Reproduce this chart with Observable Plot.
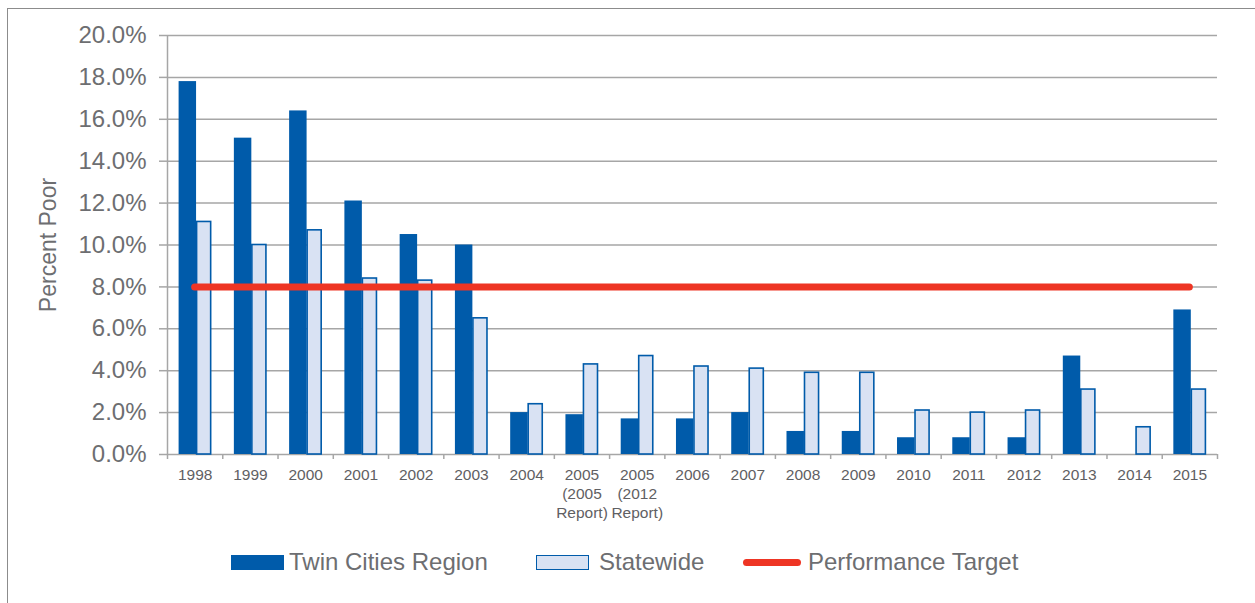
<!DOCTYPE html>
<html>
<head>
<meta charset="utf-8">
<script src="https://cdn.jsdelivr.net/npm/d3@7"></script>
<script src="https://cdn.jsdelivr.net/npm/@observablehq/plot@0.6"></script>
<style>
  html, body { margin: 0; padding: 0; background: #fff; }
  body { width: 1255px; height: 603px; position: relative; overflow: hidden; font-family: "Liberation Sans", Arial, Helvetica, sans-serif; }
  #frame { position: absolute; left: 7px; top: 8px; width: 1260px; height: 600px; border-top: 1.5px solid #8c8c8c; border-left: 1.5px solid #8c8c8c; }
  #chart { position: absolute; left: 0; top: 0; }
  .leg { position: absolute; top: 548px; height: 28px; display: flex; align-items: center; font-size: 24px; color: #6d6e71; white-space: nowrap; }
  .sw { display: inline-block; box-sizing: border-box; }
</style>
</head>
<body>
<div id="frame"></div>
<div id="chart"></div>
<div class="leg" style="left:231px"><span class="sw" style="width:53px;height:15px;background:#005BAA;margin-right:5px"></span>Twin Cities Region</div>
<div class="leg" style="left:536px"><span class="sw" style="width:53px;height:15px;background:#D9E2F3;border:1.6px solid #005BAA;margin-right:10px"></span>Statewide</div>
<div class="leg" style="left:743px"><span class="sw" style="width:58px;height:7px;background:#EE3524;border-radius:4px;margin-right:7px"></span>Performance Target</div>
<script>
const years = ["1998", "1999", "2000", "2001", "2002", "2003", "2004",
  "2005\n(2005\nReport)", "2005\n(2012\nReport)", "2006", "2007", "2008",
  "2009", "2010", "2011", "2012", "2013", "2014", "2015"];
const twinCities = [17.8, 15.1, 16.4, 12.1, 10.5, 10.0, 2.0, 1.9, 1.7, 1.7, 2.0, 1.1, 1.1, 0.8, 0.8, 0.8, 4.7, null, 6.9];
const statewide = [11.1, 10.0, 10.7, 8.4, 8.3, 6.5, 2.4, 4.3, 4.7, 4.2, 4.1, 3.9, 3.9, 2.1, 2.0, 2.1, 3.1, 1.3, 3.1];
const performanceTarget = 8.0;
const yTicks = [0, 2, 4, 6, 8, 10, 12, 14, 16, 18, 20];
const yAxisTitle = "Percent Poor";

const rows = years.map((label, i) => ({i, label, twin: twinCities[i], state: statewide[i]}));
const n = years.length;
const grid = "#a6a6a6";
const textColor = "#6d6e71";

const chart = Plot.plot({
  width: 1255,
  height: 530,
  marginLeft: 167,
  marginRight: 38,
  marginTop: 35,
  marginBottom: 76,
  style: {fontFamily: "'Liberation Sans', Arial, Helvetica, sans-serif", background: "transparent"},
  x: {type: "linear", domain: [0, n]},
  y: {domain: [0, 20]},
  marks: [
    Plot.ruleY(yTicks, {stroke: grid, strokeWidth: 1.5}),
    Plot.ruleX([0], {stroke: grid, strokeWidth: 1.5}),
    Plot.axisY({ticks: yTicks, tickFormat: d => d.toFixed(1) + "%", tickSize: 8, tickPadding: 13,
      stroke: grid, strokeWidth: 1.5, fill: textColor, fontSize: 24, label: null}),
    Plot.axisX({ticks: d3.range(n + 1), tickFormat: () => "", tickSize: 5, stroke: grid, strokeWidth: 1.5, label: null}),
    Plot.axisX({ticks: d3.range(n).map(i => i + 0.5), tickFormat: v => years[Math.floor(v)],
      tickSize: 0, tickPadding: 12, fill: "#5f6063", fontSize: 15.5, lineHeight: 1.22, label: null}),
    Plot.rectY(rows.filter(d => d.twin != null), {x1: "i", x2: d => d.i + 1, y: "twin", fill: "#005BAA",
      insetLeft: 11.6, insetRight: 26.2}),
    Plot.rectY(rows, {x1: "i", x2: d => d.i + 1, y: "state", fill: "#D9E2F3", stroke: "#005BAA",
      strokeWidth: 1.6, insetLeft: 29.6, insetRight: 11.6}),
    Plot.ruleY([performanceTarget], {x1: 0.5, x2: n - 0.5, stroke: "#EE3524", strokeWidth: 7, strokeLinecap: "round"}),
    Plot.text([yAxisTitle], {frameAnchor: "left", textAnchor: "middle", rotate: -90, dx: -119, fontSize: 23, fill: textColor})
  ]
});
document.getElementById("chart").appendChild(chart);
</script>
</body>
</html>
